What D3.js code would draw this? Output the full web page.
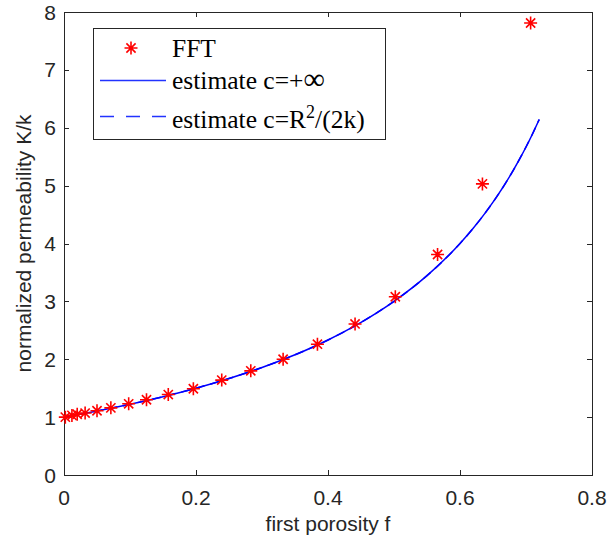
<!DOCTYPE html>
<html>
<head>
<meta charset="utf-8">
<script src="https://cdn.jsdelivr.net/npm/d3@7"></script>
<style>
  html, body { margin: 0; padding: 0; background: #fff; }
  svg { display: block; }
</style>
</head>
<body>
<svg id="chart" width="608" height="544"></svg>
<script>
// ---- data ----
const fftF = [0.002, 0.012, 0.020, 0.032, 0.050, 0.071, 0.098, 0.125, 0.158, 0.196, 0.239, 0.283, 0.332, 0.384, 0.441, 0.502, 0.566, 0.634, 0.707];
const fftK = [1.00, 1.03, 1.05, 1.07, 1.11, 1.16, 1.23, 1.30, 1.39, 1.49, 1.64, 1.80, 2.00, 2.26, 2.61, 3.08, 3.81, 5.03, 7.81];

const estF  = [0, 0.05, 0.10, 0.15, 0.20, 0.25, 0.30, 0.35, 0.40, 0.45, 0.50, 0.55, 0.60, 0.62, 0.64, 0.65, 0.66, 0.67, 0.68, 0.69, 0.70, 0.71, 0.72];
const estInf = [1.00, 1.105, 1.222, 1.353, 1.50, 1.667, 1.857, 2.077, 2.333, 2.636, 3.00, 3.444, 4.00, 4.263, 4.556, 4.714, 4.882, 5.061, 5.25, 5.452, 5.667, 5.897, 6.143];
const estR  = [1.00, 1.105, 1.222, 1.353, 1.50, 1.667, 1.857, 2.077, 2.333, 2.636, 3.00, 3.444, 4.00, 4.263, 4.556, 4.714, 4.882, 5.061, 5.25, 5.452, 5.667, 5.897, 6.143];

const xTicks = [0, 0.2, 0.4, 0.6, 0.8];
const xTickLabels = ["0", "0.2", "0.4", "0.6", "0.8"];
const yTicks = [0, 1, 2, 3, 4, 5, 6, 7, 8];
const yTickLabels = ["0", "1", "2", "3", "4", "5", "6", "7", "8"];

const xLabel = "first porosity f";
const yLabel = "normalized permeability K/k";

// ---- layout ----
const L = 64, R = 592, T = 12, B = 475;
const axisColor = "#262626";
const svg = d3.select("#chart");

const x = d3.scaleLinear().domain([0, 0.8]).range([L, R]);
const y = d3.scaleLinear().domain([0, 8]).range([B, T]);

const font = "'Liberation Sans', Arial, Helvetica, sans-serif";
const serif = "'Liberation Serif', 'Times New Roman', Times, serif";

// axes (box with inward ticks)
const tickLen = 5;
const axG = svg.append("g");
axG.append("rect").attr("x", L + 0.5).attr("y", T + 0.5).attr("width", R - L).attr("height", B - T)
  .attr("fill", "none").attr("stroke", axisColor).attr("stroke-width", 1);

xTicks.forEach((t, i) => {
  const px = Math.round(x(t)) + 0.5;
  axG.append("line").attr("x1", px).attr("x2", px).attr("y1", B).attr("y2", B - tickLen).attr("stroke", axisColor);
  axG.append("line").attr("x1", px).attr("x2", px).attr("y1", T).attr("y2", T + tickLen).attr("stroke", axisColor);
  axG.append("text").attr("x", x(t)).attr("y", B + 30).attr("text-anchor", "middle")
    .attr("font-family", font).attr("font-size", 21).attr("fill", axisColor).text(xTickLabels[i]);
});
yTicks.forEach((t, i) => {
  const py = Math.round(y(t)) + 0.5;
  axG.append("line").attr("x1", L).attr("x2", L + tickLen).attr("y1", py).attr("y2", py).attr("stroke", axisColor);
  axG.append("line").attr("x1", R).attr("x2", R - tickLen).attr("y1", py).attr("y2", py).attr("stroke", axisColor);
  axG.append("text").attr("x", L - 8).attr("y", y(t) + 7.5).attr("text-anchor", "end")
    .attr("font-family", font).attr("font-size", 21).attr("fill", axisColor).text(yTickLabels[i]);
});

svg.append("text").attr("x", (L + R) / 2).attr("y", 531).attr("text-anchor", "middle")
  .attr("font-family", font).attr("font-size", 21).attr("fill", axisColor).text(xLabel);
svg.append("text").attr("transform", `translate(31,${(T + B) / 2}) rotate(-90)`).attr("text-anchor", "middle")
  .attr("font-family", font).attr("font-size", 21).attr("fill", axisColor).text(yLabel);

// curves
const line = d3.line().x(d => x(d[0])).y(d => y(d[1])).curve(d3.curveMonotoneX);
svg.append("path").datum(estF.map((f, i) => [f, estInf[i]]))
  .attr("d", line).attr("fill", "none").attr("stroke", "#0000ff").attr("stroke-width", 1.5);
svg.append("path").datum(estF.map((f, i) => [f, estR[i]]))
  .attr("d", line).attr("fill", "none").attr("stroke", "#0000ff").attr("stroke-width", 1.5)
  .attr("stroke-dasharray", "9,6");

// star markers
function star(g, cx, cy, r) {
  const d = r * Math.SQRT1_2;
  const p = `M${cx - r},${cy}L${cx + r},${cy}M${cx},${cy - r}L${cx},${cy + r}` +
            `M${cx - d},${cy - d}L${cx + d},${cy + d}M${cx - d},${cy + d}L${cx + d},${cy - d}`;
  g.append("path").attr("d", p).attr("stroke", "#ff0000").attr("stroke-width", 1.6).attr("fill", "none");
}
const mg = svg.append("g");
fftF.forEach((f, i) => star(mg, x(f), y(fftK[i]), 6.5));

// legend
const lg = svg.append("g");
lg.append("rect").attr("x", 93.5).attr("y", 28.5).attr("width", 292).attr("height", 111)
  .attr("fill", "#fff").attr("stroke", axisColor).attr("stroke-width", 1);
star(lg, 131, 48, 6.5);
lg.append("line").attr("x1", 100).attr("x2", 166).attr("y1", 80.5).attr("y2", 80.5)
  .attr("stroke", "#2233ff").attr("stroke-width", 1.3);
lg.append("line").attr("x1", 100).attr("x2", 166).attr("y1", 116.5).attr("y2", 116.5)
  .attr("stroke", "#2233ff").attr("stroke-width", 1.3).attr("stroke-dasharray", "14,12");
const lt = (yy) => lg.append("text").attr("x", 172).attr("y", yy)
  .attr("font-family", serif).attr("font-size", 25.5).attr("fill", "#000");
lt(57).text("FFT");
const t2 = lt(89);
t2.append("tspan").text("estimate c=+");
t2.append("tspan").attr("font-size", 30).text("\u221E");
const t3 = lt(128);
t3.append("tspan").text("estimate c=R");
t3.append("tspan").attr("dy", -10).attr("font-size", 18).text("2");
t3.append("tspan").attr("dy", 10).text("/(2k)");
</script>
</body>
</html>
